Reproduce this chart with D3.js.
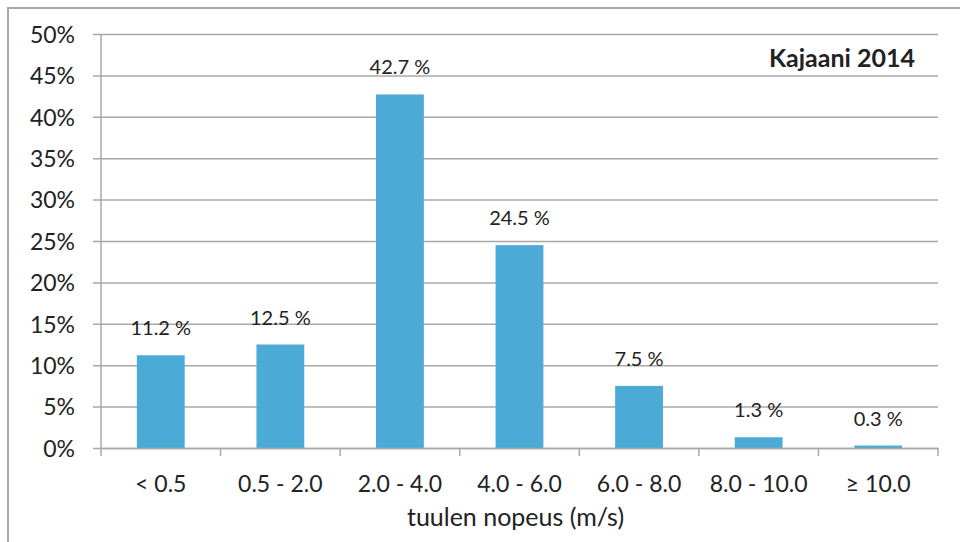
<html>
<meta charset="utf-8" />
<head>
<title>Kajaani 2014</title>
<script src="https://cdn.jsdelivr.net/npm/d3@7/dist/d3.min.js"></script>
<style>
	body { margin: 0; background: #fff; }
	svg { display: block; }
	text { font-family: Lato, "Open Sans", sans-serif; fill: #222; }
</style>
<script>
// tuulen nopeus -luokat ja osuudet (%)
const categories = ['< 0.5', '0.5 - 2.0', '2.0 - 4.0', '4.0 - 6.0', '6.0 - 8.0', '8.0 - 10.0', '≥ 10.0'];
const shares = [11.2, 12.5, 42.7, 24.5, 7.5, 1.3, 0.3];
const yTicks = [0, 5, 10, 15, 20, 25, 30, 35, 40, 45, 50];

window.onload = function() {
	const svg = d3.select('svg');
	const left = 101, right = 938, top = 34, bottom = 448;

	let xScale = d3.scaleBand().domain(categories).range([left, right]).paddingInner(0.6).paddingOuter(0.3);
	let yScale = d3.scaleLinear().domain([0, 50]).range([bottom, top]);

	// kehys (vain ylä- ja vasen reuna näkyy)
	svg.append('path')
		.attr('d', 'M8,542 V8 H960')
		.attr('fill', 'none')
		.attr('stroke', '#a8a8a8')
		.attr('stroke-width', 2);

	// vaakaviivat + y-akseli
	let yAxis = d3.axisLeft(yScale).tickValues(yTicks).tickSize(-(right - left + 8)).tickFormat(d => d + '%');
	let yG = svg.append('g').attr('transform', 'translate(' + (left - 8) + ',0)').call(yAxis);
	yG.select('.domain').remove();
	yG.selectAll('.tick line').attr('stroke', '#a8a8a8').attr('stroke-width', 1.5);
	yG.selectAll('.tick text')
		.attr('x', -18)
		.attr('dy', '0.36em')
		.style('font-size', '23px')
		.attr('fill', '#222');

	svg.append('line')
		.attr('x1', left).attr('x2', left)
		.attr('y1', top).attr('y2', bottom)
		.attr('stroke', '#a8a8a8').attr('stroke-width', 1.5);

	// pylväät
	svg.selectAll('rect.bar')
		.data(shares)
		.enter()
		.append('rect')
		.attr('class', 'bar')
		.attr('x', (d, i) => xScale(categories[i]))
		.attr('width', xScale.bandwidth())
		.attr('y', d => yScale(d))
		.attr('height', d => bottom - yScale(d))
		.attr('fill', '#4babd6');

	svg.selectAll('text.val')
		.data(shares)
		.enter()
		.append('text')
		.attr('class', 'val')
		.attr('x', (d, i) => xScale(categories[i]) + xScale.bandwidth() / 2)
		.attr('y', d => yScale(d) - 20)
		.attr('text-anchor', 'middle')
		.style('font-size', '20px')
		.text(d => d.toFixed(1) + ' %');

	// x-akseli
	let step = (right - left) / categories.length;
	let xAxis = d3.axisBottom(xScale).tickSize(0).tickPadding(28);
	let xG = svg.append('g').attr('transform', 'translate(0,' + bottom + ')').call(xAxis);
	xG.select('.domain').attr('stroke', '#a8a8a8').attr('stroke-width', 1.5);
	xG.selectAll('.tick text').style('font-size', '23px').attr('fill', '#222');

	// jakoviivat luokkien välissä
	xG.selectAll('line.sep')
		.data(d3.range(categories.length + 1))
		.enter()
		.append('line')
		.attr('class', 'sep')
		.attr('x1', i => left + i * step).attr('x2', i => left + i * step)
		.attr('y1', 0).attr('y2', 8)
		.attr('stroke', '#a8a8a8').attr('stroke-width', 1.5);

	svg.append('text')
		.attr('x', (left + right) / 2 - 4)
		.attr('y', 526)
		.attr('text-anchor', 'middle')
		.style('font-size', '25px')
		.text('tuulen nopeus (m/s)');

	svg.append('text')
		.attr('x', 915)
		.attr('y', 67)
		.attr('text-anchor', 'end')
		.style('font-size', '25px')
		.style('font-weight', 'bold')
		.text('Kajaani 2014');
}
</script>
</head>
<body>
<svg width="960" height="542"></svg>
</body>
</html>
